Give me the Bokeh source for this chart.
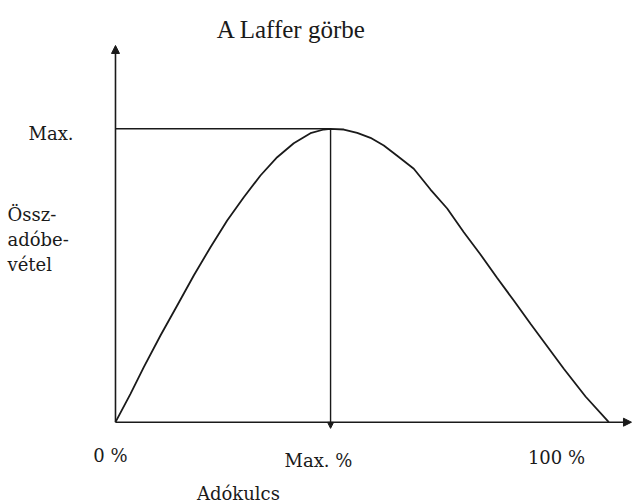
from bokeh.plotting import figure
from bokeh.models import Range1d, Arrow, NormalHead, Label
from bokeh.embed import file_html
from bokeh.resources import INLINE

# Laffer curve: tax rate (%) vs total tax revenue (relative, 100 = max)
tax_rate = [0, 3.04, 5.74, 9.12, 12.51, 15.87, 19.26, 22.64, 26.01, 29.39, 32.78,
            36.14, 39.53, 42.23, 43.58, 46.28, 49.0, 51.69, 54.39, 57.1, 60.47,
            63.86, 67.24, 70.61, 73.99, 77.38, 80.74, 84.13, 90.88, 95.28, 100]
revenue = [0, 9.68, 18.75, 29.55, 39.77, 50.0, 59.65, 68.75, 76.69, 84.08, 90.32,
           95.09, 98.5, 99.76, 100, 99.76, 98.64, 96.93, 94.31, 90.8, 86.37,
           79.3, 72.84, 64.76, 57.16, 49.15, 41.48, 33.54, 18.2, 8.76, 0]
max_rate = 43.6
max_revenue = 100

title_text = "A Laffer görbe"
x_labels = ["0 %", "Max. %", "100 %"]
y_label_lines = ["Össz-", "adóbe-", "vétel"]
x_title = "Adókulcs"
y_max_label = "Max."

W, H = 633, 504
p = figure(width=W, height=H, output_backend="svg", toolbar_location=None,
           x_range=Range1d(-23.31, 105.01), y_range=Range1d(-28.05, 143.73),
           x_axis_type=None, y_axis_type=None, min_border=0,
           min_border_left=0, min_border_right=0, min_border_top=0, min_border_bottom=0)
p.grid.visible = False
p.outline_line_color = None
p.background_fill_color = "white"
p.border_fill_color = "white"

ink = "#1a1a1a"

# axes with arrows
p.add_layout(Arrow(end=NormalHead(size=8, fill_color=ink, line_color=ink, line_width=1),
                   x_start=0, y_start=0, x_end=0, y_end=128.4,
                   line_color=ink, line_width=1.6))
p.add_layout(Arrow(end=NormalHead(size=8, fill_color=ink, line_color=ink, line_width=1),
                   x_start=0, y_start=0, x_end=104.6, y_end=0,
                   line_color=ink, line_width=1.6))

# curve
p.line(tax_rate, revenue, line_color=ink, line_width=1.8)

# max guides
p.line([0, max_rate], [max_revenue, max_revenue], line_color=ink, line_width=1.4)
p.add_layout(Arrow(end=NormalHead(size=6, fill_color=ink, line_color=ink, line_width=1),
                   x_start=max_rate, y_start=max_revenue, x_end=max_rate, y_end=-2.1,
                   line_color=ink, line_width=1.4))

lab_font = "DejaVu Serif"
lab_size = "18px"

p.add_layout(Label(x=35.68, y=133.74, text=title_text, text_font="Liberation Serif",
                   text_font_size="25px", text_align="center", text_baseline="alphabetic",
                   text_color=ink))

p.add_layout(Label(x=-8.51, y=98.4, text=y_max_label, text_font=lab_font,
                   text_font_size=lab_size, text_align="right", text_baseline="middle",
                   text_color=ink))

for txt, yy in zip(y_label_lines, [70.77, 62.24, 53.72]):
    p.add_layout(Label(x=-21.89, y=yy, text=txt, text_font=lab_font,
                       text_font_size=lab_size, text_align="left", text_baseline="middle",
                       text_color=ink))

for txt, xx, yy in zip(x_labels, [-1.01, 41.15, 89.4], [-11.4, -13.0, -12.0]):
    p.add_layout(Label(x=xx, y=yy, text=txt, text_font=lab_font,
                       text_font_size=lab_size, text_align="center", text_baseline="middle",
                       text_color=ink))

p.add_layout(Label(x=24.93, y=-24.2, text=x_title, text_font=lab_font,
                   text_font_size=lab_size, text_align="center", text_baseline="middle",
                   text_color=ink))

open("out.html", "w").write(file_html(p, INLINE))
